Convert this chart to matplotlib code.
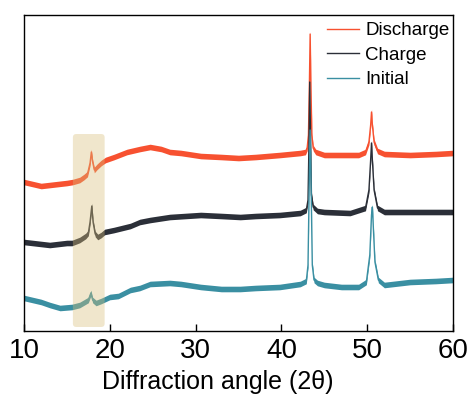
import matplotlib.pyplot as plt
from matplotlib.patches import FancyBboxPatch

plt.rcParams['font.family'] = ['Liberation Sans', 'DejaVu Sans']

# stacked intensities (a.u.)
x_dis = [10, 11, 12, 13, 14, 15, 15.7, 16.5, 17.0, 17.4, 17.7, 17.85, 18.0, 18.2, 18.5, 19.0,
         19.5, 20.5, 22, 23.5, 24.7, 26, 27, 28.3, 30.6, 33, 35, 37, 39.8, 42.2, 42.8, 43.0,
         43.15, 43.25, 43.35, 43.45, 43.55, 43.7, 44.0, 45, 47, 49, 49.8, 50.2, 50.4, 50.5,
         50.6, 50.8, 51.2, 52, 55, 58, 60]
y_dis = [149, 147, 145, 146, 147, 148, 149, 151, 154, 157, 168, 179, 169, 161, 164, 168,
         171, 174, 179, 182, 184, 182, 179, 178, 175, 174, 173, 174, 176, 178, 179, 183,
         196, 241, 297, 241, 196, 183, 179, 176, 176, 176, 179, 189, 206, 219,
         206, 189, 180, 177, 176, 177, 178]

x_chg = [10, 11, 13, 15, 15.6, 16.5, 17.2, 17.5, 17.7, 17.9, 18.05, 18.3, 18.6, 19.0, 19.4,
         20.5, 22.4, 23.5, 24.7, 27, 30.6, 33, 35.2, 37, 39.8, 42.2, 42.9, 43.1, 43.2, 43.3,
         43.4, 43.5, 43.7, 44.2, 45, 48, 49.8, 50.2, 50.4, 50.5, 50.6, 50.8, 51.2, 52, 55, 60]
y_chg = [89, 88, 86, 88, 88, 91, 95, 98, 109, 125, 109, 97, 94, 96, 99,
         101, 105, 109, 111, 114, 116, 115, 114, 115, 116, 118, 121, 131, 181, 249,
         191, 136, 124, 120, 119, 118, 123, 141, 171, 188, 171, 141, 123, 119, 119, 119]

x_ini = [10, 11, 12, 13, 14.2, 15.6, 16.5, 17.1, 17.5, 17.8, 18.0, 18.4, 19.0, 20, 21, 22.4,
         23.5, 24.7, 27, 28.3, 30.6, 33, 35.2, 37, 39.8, 42.2, 42.9, 43.1, 43.25, 43.35,
         43.45, 43.6, 43.8, 44.2, 45, 47, 49, 49.9, 50.3, 50.5, 50.6, 50.7, 50.9, 51.3, 52,
         55, 58, 60]
y_ini = [33, 31, 29, 26, 23, 24, 26, 29, 31, 38, 31, 28, 30, 34, 35, 41,
         43, 47, 48, 47, 44, 42, 42, 43, 44, 47, 50, 66, 151, 201,
         151, 66, 51, 48, 46, 44, 44, 49, 76, 116, 124, 106, 69, 51, 46,
         49, 50, 51]

series = [
    ('Discharge', x_dis, y_dis, '#f75130'),
    ('Charge', x_chg, y_chg, '#2b2f38'),
    ('Initial', x_ini, y_ini, '#3a8fa2'),
]

fig = plt.figure(figsize=(4.72, 4.03), dpi=100)
ax = fig.add_axes([0.0508, 0.1787, 0.909, 0.784])

band = 2.8
for name, xs, ys, c in series:
    ax.fill_between(xs, [v - band for v in ys], [v + band for v in ys], color=c, lw=0)
    ax.plot(xs, ys, color=c, lw=1.0, label=name)

# highlighted region around 18 deg
hl = FancyBboxPatch((15.7, 4), 3.7, 193, boxstyle='round,pad=0,rounding_size=0.4',
                    mutation_aspect=8.6, fc='#d9bf7a', ec='none', alpha=0.38, zorder=5)
ax.add_patch(hl)

ax.set_xlim(10, 60)
ax.set_ylim(0, 316)
ax.set_yticks([])
ax.set_xticks([10, 20, 30, 40, 50, 60])
ax.tick_params(axis='x', direction='in', length=5, width=1, labelsize=20, pad=5)
for s in ax.spines.values():
    s.set_linewidth(1.0)

ax.set_xlabel('Diffraction angle (2θ)', fontsize=18)
ax.xaxis.set_label_coords(0.452, -0.122)

leg = ax.legend(loc='upper right', bbox_to_anchor=(1.0, 0.99), frameon=False, fontsize=13.5,
                handlelength=1.75, handletextpad=0.3, labelspacing=0.4, borderaxespad=0.1,
                borderpad=0.1)

fig.savefig('out.png', dpi=100)
